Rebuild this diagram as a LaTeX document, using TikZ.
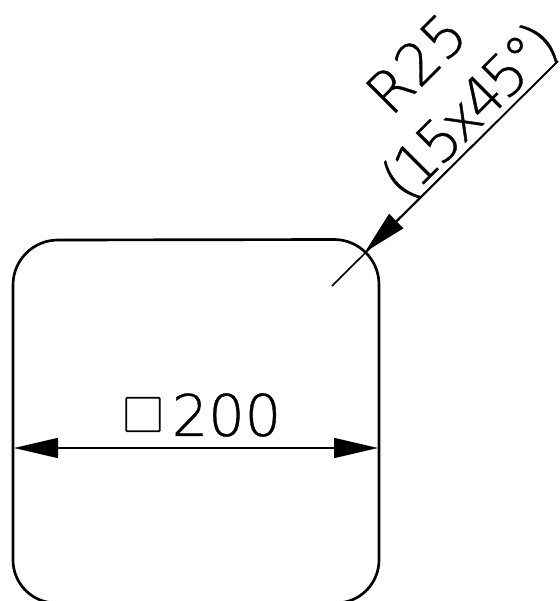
\documentclass[tikz,border=0pt]{standalone}
\usepackage{fontspec}
\setmainfont[FakeBold=0.6]{DejaVu Sans ExtraLight}
\usetikzlibrary{arrows.meta}
\tikzset{
  outline/.style={line width=2pt,black},
  dimline/.style={line width=1.2pt,black,>={Triangle[length=33pt,width=15pt]}},
  lbl/.style={inner sep=0pt,font=\fontsize{43}{48}\selectfont}
}
\begin{document}
\begin{tikzpicture}[x=0.75pt,y=-0.75pt]
\useasboundingbox (0,0) rectangle (560,601);
\begin{scope}
\clip (0,0) rectangle (560,601);
\draw[outline] (13,560) -- (13,285) arc[start angle=180,end angle=270,radius=45] -- (334,239.5) arc[start angle=270,end angle=360,radius=45] -- (379,560) arc[start angle=0,end angle=90,radius=43] -- (56,603) arc[start angle=90,end angle=180,radius=43];
\end{scope}
\coordinate (leftE) at (14,448);
\coordinate (rightE) at (378,448);
\draw[dimline,<->] (leftE) -- (rightE);
\coordinate (lead) at (558,61);
\coordinate (tipP) at (365,252);
\coordinate (inner) at (332,286);
\draw[dimline] (lead) -- (inner);
\draw[dimline,->] (lead) -- (tipP);
\node[lbl] (dim) at (226.5,415) {200};
\node[draw,line width=1.3pt,minimum size=25pt,inner sep=0pt,rounded corners=0.5pt] (sq) at (143,414.5) {};
\node[lbl,rotate=45] (r) at (416,63) {R25};
\node[lbl,rotate=45] (a) at (470.5,112) {\addfontfeature{LetterSpace=-8}(15x45°)};
\end{tikzpicture}
\end{document}
